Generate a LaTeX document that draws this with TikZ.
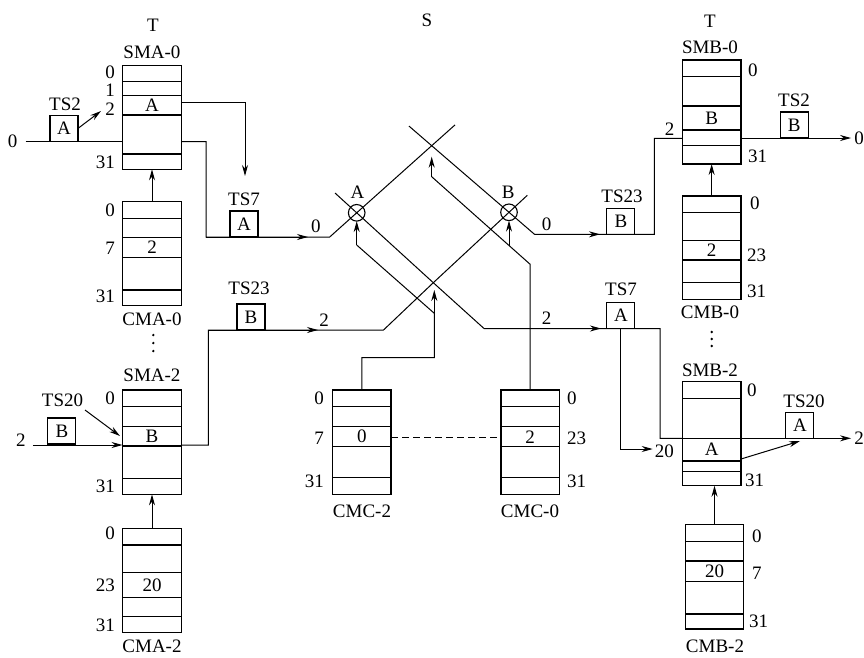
\documentclass[tikz,border=0pt]{standalone}
\usepackage{fontspec}
\setmainfont{Liberation Serif}
\usetikzlibrary{arrows.meta}
\newcommand\memrows[2]{\foreach \yy in {#2} {\draw[rowline] (#1.west |- 0,\yy) -- (#1.east |- 0,\yy);}}
\begin{document}
\begin{tikzpicture}[x=1pt,y=-1pt,
  font=\fontsize{19}{22}\selectfont,
  mem/.style={draw, line width=1.5pt, rectangle, minimum width=59pt, inner sep=0pt, outer sep=0pt},
  rowline/.style={line width=1.1pt},
  tsbox/.style={draw, line width=1.1pt, rectangle, minimum width=28pt, minimum height=26pt, inner sep=0pt, outer sep=0pt},
  lbl/.style={inner sep=0pt},
  wire/.style={line width=1pt},
  arr/.style={wire, -{Stealth[length=11pt,width=6pt]}},
  xcirc/.style={draw, circle, line width=1.1pt, minimum size=16.6pt, inner sep=0pt, outer sep=0pt},
]
\useasboundingbox (0,0) rectangle (864,657);

% ---------- memory boxes ----------
\node[mem, minimum height=103.6pt] (sma0) at (152,117.5) {};
\memrows{sma0}{81.7,95.7,115,154}
\node[mem, minimum height=104pt] (cma0) at (152,253.7) {};
\memrows{cma0}{218.3,237.7,257.7,290}
\node[mem, minimum height=104.3pt] (sma2) at (152,442.2) {};
\memrows{sma2}{406.7,426.7,446,478.3}
\node[mem, minimum height=104pt] (cma2) at (152,580.3) {};
\memrows{cma2}{545,572.7,597.7,616.7}
\node[mem, minimum height=104.3pt, minimum width=58.3pt] (cmc2) at (361.85,442.2) {};
\memrows{cmc2}{406.7,426.7,446.7,477.7}
\node[mem, minimum height=104.3pt, minimum width=58.3pt] (cmc0) at (530.15,442.2) {};
\memrows{cmc0}{406.7,426.7,446.7,477.7}
\node[mem, minimum height=104pt, minimum width=58.7pt] (smb0) at (711.65,112) {};
\memrows{smb0}{76.7,106,130,145.7}
\node[mem, minimum height=103.3pt, minimum width=58.7pt] (cmb0) at (711.65,247.65) {};
\memrows{cmb0}{212.3,240.7,260,282.7}
\node[mem, minimum height=104pt, minimum width=58.7pt] (smb2) at (711.65,433.7) {};
\memrows{smb2}{398.3,438.3,461,471.7}
\node[mem, minimum height=104.7pt, minimum width=57.6pt] (cmb2) at (714.5,576.65) {};
\memrows{cmb2}{541.7,561,581.7,614}

% ---------- contents ----------
\node (sma0a) at (152,105.3) {A};
\node (cma0v) at (152,247.7) {2};
\node (sma2b) at (152,436.3) {B};
\node (cma2v) at (152,585.2) {20};
\node (cmc2v) at (361.85,436.7) {0};
\node (cmc0v) at (530.15,436.7) {2};
\node (smb0b) at (711.65,118) {B};
\node (cmb0v) at (711.65,250.3) {2};
\node (smb2a) at (711.65,449.6) {A};
\node (cmb2v) at (714.5,571.3) {20};

% ---------- side labels ----------
\node[lbl, anchor=east] (s0a) at (115,72.7) {0};
\node[lbl, anchor=east] (s0b) at (115,90.3) {1};
\node[lbl, anchor=east] (s0c) at (115,109) {2};
\node[lbl, anchor=east] (s0d) at (115,162) {31};
\node[lbl, anchor=east] (c0a) at (115,210) {0};
\node[lbl, anchor=east] (c0b) at (115,248) {7};
\node[lbl, anchor=east] (c0c) at (115,296) {31};
\node[lbl, anchor=east] (s2a) at (115,398.3) {0};
\node[lbl, anchor=east] (s2b) at (115,486) {31};
\node[lbl, anchor=east] (c2a) at (115,533.3) {0};
\node[lbl, anchor=east] (c2b) at (115,585) {23};
\node[lbl, anchor=east] (c2c) at (115,625) {31};
\node[lbl, anchor=east] (cc2a) at (324,398.3) {0};
\node[lbl, anchor=east] (cc2b) at (324,438.3) {7};
\node[lbl, anchor=east] (cc2c) at (324,481.7) {31};
\node[lbl, anchor=west] (cc0a) at (567,398.3) {0};
\node[lbl, anchor=west] (cc0b) at (567,438.3) {23};
\node[lbl, anchor=west] (cc0c) at (567,481.7) {31};
\node[lbl, anchor=west] (b0a) at (748,70) {0};
\node[lbl, anchor=west] (b0b) at (748,156.7) {31};
\node[lbl, anchor=east] (b0c) at (674.5,129.3) {2};
\node[lbl, anchor=west] (cb0a) at (750,203.3) {0};
\node[lbl, anchor=west] (cb0b) at (747,255) {23};
\node[lbl, anchor=west] (cb0c) at (747,291.7) {31};
\node[lbl, anchor=west] (b2a) at (747,390) {0};
\node[lbl, anchor=west] (b2b) at (745,480) {31};
\node[lbl, anchor=east] (b2c) at (674,451.7) {20};
\node[lbl, anchor=west] (cb2a) at (752,536.7) {0};
\node[lbl, anchor=west] (cb2b) at (752,573.3) {7};
\node[lbl, anchor=west] (cb2c) at (749,621.7) {31};

% ---------- titles ----------
\node (tl) at (153,25) {T};
\node (ts) at (427,20) {S};
\node (tr) at (710,21) {T};
\node (nsma0) at (152,52) {SMA-0};
\node (nsmb0) at (710,47.5) {SMB-0};
\node (ncma0) at (152,319) {CMA-0};
\node (ncmb0) at (710,312) {CMB-0};
\node (nsma2) at (152,375) {SMA-2};
\node (nsmb2) at (710,370) {SMB-2};
\node (ncma2) at (152,646) {CMA-2};
\node (ncmb2) at (715,646) {CMB-2};
\node (ncmc2) at (362,511) {CMC-2};
\node (ncmc0) at (530,511) {CMC-0};

% ---------- time-slot boxes ----------
\node[tsbox] (ts2a) at (64,128.4) {A};
\node (lts2a) at (65,104) {TS2};
\node[tsbox] (ts7a) at (244,224) {A};
\node (lts7a) at (244,199) {TS7};
\node[tsbox] (ts23b) at (251,317) {B};
\node (lts23b) at (249,288) {TS23};
\node[tsbox] (ts20b) at (61.9,431) {B};
\node (lts20b) at (62.5,400) {TS20};
\node[tsbox] (ts23bR) at (620.9,221.3) {B};
\node (lts23bR) at (622,196) {TS23};
\node[tsbox] (ts2bR) at (794.2,125) {B};
\node (lts2bR) at (794,100) {TS2};
\node[tsbox] (ts7aR) at (620.9,315.5) {A};
\node (lts7aR) at (621,289) {TS7};
\node[tsbox] (ts20aR) at (799.9,425.3) {A};
\node (lts20aR) at (804,401) {TS20};

% ---------- line end labels ----------
\node[lbl] (in0) at (12.7,141.7) {0};
\node[lbl] (in2) at (20.8,440) {2};
\node[lbl] (out0) at (859,138.3) {0};
\node[lbl] (out2) at (859,438.3) {2};
\node[lbl] (m0l) at (315.8,226.7) {0};
\node[lbl] (m0r) at (546.5,224) {0};
\node[lbl] (m2l) at (324,320) {2};
\node[lbl] (m2r) at (546.7,318) {2};
\node[lbl] (lA) at (357.5,192.5) {A};
\node[lbl] (lB) at (508.3,192.5) {B};

% ---------- switch crosspoints ----------
\node[xcirc] (cA) at (356.7,212.8) {};
\node[xcirc] (cB) at (509,212.3) {};
\coordinate (top) at (431.7,145.7);
\coordinate (bot) at (433.3,282.7);

% line 2: SMA-0 -> A -> top
\draw[wire] (sma0.east |- 0,141.5) -| (206,237) -- (329.7,237) -- (cA.center) -- (top) -- (455,124.9);
\draw[arr] (206,237) -- (308,237);
% line 1: through A and bottom crossing -> TS7 -> SMB-2
\draw[wire] (335,193) -- (cA.center) -- (bot) -- (484,328.5) -- (660,328.5) |- (smb2.west |- 0,438.3);
\draw[arr] (484,328.5) -- (601,328.5);
% line 3: top -> B -> TS23 -> SMB-0
\draw[wire] (409,126.1) -- (top) -- (cB.center) -- (534.5,234.3) -- (654.3,234.3) |- (smb0.west |- 0,138.3);
\draw[arr] (534.5,234.3) -- (600,234.3);
% line 4: SMA-2 -> TS23 -> bottom -> B
\draw[wire] (sma2.east |- 0,445) -| (208.3,330) -- (383.5,330) -- (bot) -- (cB.center) -- (527.3,195.3);
\draw[arr] (208.3,330) -- (318,330);

% inputs / outputs of SMA
\draw[wire] ([xshift=8pt]in0.east) -- (in0.east -| sma0.west);
\coordinate (ts2tip) at (101,111);
\draw[arr] (ts2a.east) -- (ts2tip);
\coordinate (ts7tip) at (245,176);
\draw[arr] (sma0.east |- 0,102.7) -| (ts7tip);
\draw[arr] ([xshift=7pt]in2.east |- 0,445) -- (sma2.west |- 0,445);
\coordinate (ts20s) at (85,410);
\coordinate (ts20t) at (120,436);
\draw[arr] (ts20s) -- (ts20t);

% outputs of SMB
\draw[arr] (smb0.east |- 0,138) -- ([xshift=-3pt]out0.west |- 0,138);
\draw[arr] (smb2.east |- 0,438.3) -- ([xshift=-3pt]out2.west |- 0,438.3);
\coordinate (smb2in) at (652.7,449);
\draw[arr] (ts7aR.south) |- (smb2in);
\coordinate (ts20rs) at (741,459);
\coordinate (ts20rt) at (800,441);
\draw[arr] (ts20rs) -- (ts20rt);

% control memory arrows
\draw[arr] (cma0.north) -- (sma0.south);
\draw[arr] (cma2.north) -- (sma2.south);
\draw[arr] (cmb0.north) -- (smb0.south);
\draw[arr] (cmb2.north) -- (cmb2.north |- smb2.south);

% CMC-2 control
\draw[wire] (cmc2.north) -- (361.85,357.7) -- (434.3,357.7) -- (434.3,313.3) -- (356.7,245);
\draw[arr] (434.3,313.3) -- (434.3,290);
\draw[arr] (356.7,245) -- (cA.south);
% CMC-0 control
\draw[wire] (cmc0.north) -- (530.15,264.3) -- (431.7,176.7);
\draw[arr] (431.7,176.7) -- (431.7,156.7);
\draw[arr] (509,245.5) -- (cB.south);
% dashed link
\draw[wire, dash pattern=on 7pt off 4pt] (cmc2.east |- 0,437.7) -- (cmc0.west |- 0,437.7);

% vertical ellipses
\foreach \yy in {335,343,351} \fill (153.3,\yy) circle (1.3pt);
\foreach \yy in {332,339,346} \fill (711.7,\yy) circle (1.3pt);
\end{tikzpicture}
\end{document}
